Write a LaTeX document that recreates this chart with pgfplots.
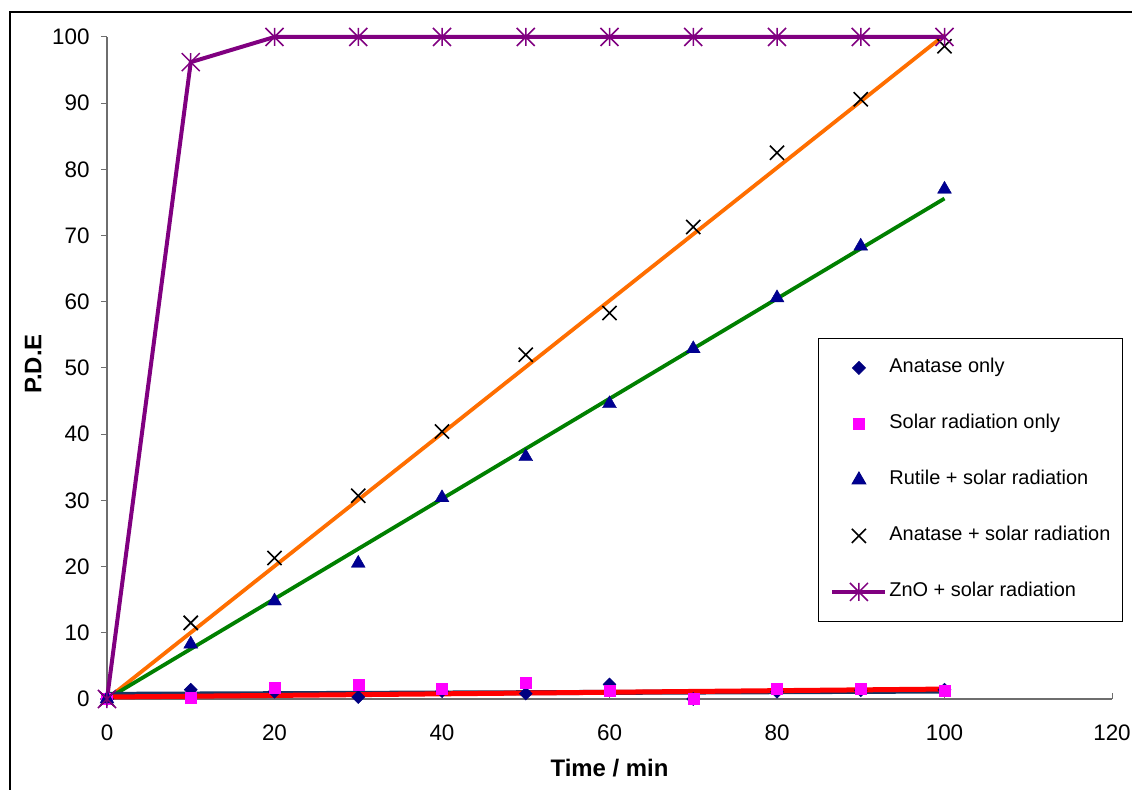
\documentclass[border=0pt]{standalone}
\usepackage{pgfplots}
\pgfplotsset{compat=1.18}
\usepackage{fontspec}
\setmainfont{Liberation Sans}
\definecolor{navym}{RGB}{0,0,128}
\definecolor{navyt}{RGB}{20,55,100}
\definecolor{mag}{RGB}{255,0,255}
\definecolor{purp}{RGB}{128,0,128}
\definecolor{orng}{RGB}{255,110,0}
\definecolor{grn}{RGB}{0,128,0}
\definecolor{axgray}{RGB}{110,110,110}
\pgfdeclareplotmark{xstar}{%
  \pgfpathmoveto{\pgfqpoint{0pt}{\pgfplotmarksize}}%
  \pgfpathlineto{\pgfqpoint{0pt}{-\pgfplotmarksize}}%
  \pgfpathmoveto{\pgfqpoint{-\pgfplotmarksize}{-\pgfplotmarksize}}%
  \pgfpathlineto{\pgfqpoint{\pgfplotmarksize}{\pgfplotmarksize}}%
  \pgfpathmoveto{\pgfqpoint{-\pgfplotmarksize}{\pgfplotmarksize}}%
  \pgfpathlineto{\pgfqpoint{\pgfplotmarksize}{-\pgfplotmarksize}}%
  \pgfusepathqstroke}
\begin{document}
\begin{tikzpicture}
\path[use as bounding box] (-107bp,-91bp) rectangle (1025bp,699bp);
\begin{axis}[
  at={(0,0)}, anchor=south west,
  scale only axis, width=1005bp, height=662bp,
  xmin=0, xmax=120, ymin=0, ymax=100,
  axis lines=left, axis line style={-, axgray, line width=1.2bp},
  xtick={0,20,...,120}, ytick={0,10,...,100},
  x tick style={axgray, line width=1bp}, y tick style={axgray, line width=1bp},
  xtick align=inside, ytick align=outside,
  major tick length=6bp,
  /pgf/number format/assume math mode=true,
  ticklabel style={font=\fontsize{22.5}{26}\selectfont},
  xticklabel style={yshift=-22bp},
  yticklabel style={xshift=-8bp},
  xlabel={\textbf{Time / min}},
  ylabel={\textbf{P.D.E}},
  xlabel style={font=\fontsize{24}{28}\selectfont, at={(axis description cs:0.5,-0.104)}, anchor=center},
  ylabel style={font=\fontsize{24}{28}\selectfont, at={(axis description cs:-0.0736,0.506)}, anchor=center},
  clip=false,
  legend style={at={(rel axis cs:0.7075,0.5453)}, anchor=north west,
    draw=black, line width=0.8bp, fill=white,
    font=\fontsize{20}{24}\selectfont,
    inner xsep=12bp, inner ysep=20bp, row sep=37bp,
    nodes={inner sep=0pt, text height=14.5bp, text depth=4.5bp},
    cells={anchor=west}},
  legend cell align=left,
  legend image code/.code={%
    \path[draw=none, fill=none] (0bp,-8bp) rectangle (57bp,8bp);
    \draw[mark repeat=2,mark phase=2] plot coordinates {(0bp,0bp) (26.5bp,0bp) (53bp,0bp)};},
]
% trendlines under markers
\addplot[orng, line width=3.8bp, forget plot] coordinates {(0,0) (100,100.3)};
\addplot[grn, line width=3.8bp, forget plot] coordinates {(0,0) (100,75.6)};

\addplot[only marks, mark=square*, mark size=4.6bp, navym, mark options={fill=navym, rotate=45}] coordinates {
(0,0) (10,1.4) (20,1.1) (30,0.3) (40,1.2) (50,0.8) (60,2.2) (70,0) (80,1.1) (90,1.3) (100,1.4)};
\addlegendentry{Anatase only}
\addplot[only marks, mark=square*, mark size=5.5bp, mag, mark options={fill=mag}] coordinates {
(0,0) (10,0.2) (20,1.7) (30,2.1) (40,1.6) (50,2.4) (60,1.2) (70,0) (80,1.5) (90,1.5) (100,1.2)};
\addlegendentry{Solar radiation only}
\addplot[only marks, mark=triangle*, mark size=8bp, navym, mark options={fill=navym!85!blue}] coordinates {
(0,0) (10,8.3) (20,14.8) (30,20.5) (40,30.4) (50,36.6) (60,44.6) (70,52.9) (80,60.6) (90,68.4) (100,77)};
\addlegendentry{Rutile + solar radiation}
\addplot[only marks, mark=x, mark size=10bp, black, mark options={line width=1.6bp}] coordinates {
(0,0) (10,11.5) (20,21.3) (30,30.7) (40,40.4) (50,52) (60,58.3) (70,71.3) (80,82.5) (90,90.6) (100,98.6)};
\addlegendentry{Anatase + solar radiation}

\addplot[navyt, line width=5bp, forget plot] coordinates {(0,0.7) (100,1.2)};
\addplot[red, line width=5bp, forget plot] coordinates {(0,0.3) (100,1.5)};

\addplot[purp, line width=4bp, mark=xstar, mark size=9bp, mark options={line width=1.5bp}] coordinates {
(0,0) (10,96.2) (20,100) (30,100) (40,100) (50,100) (60,100) (70,100) (80,100) (90,100) (100,100)};
\addlegendentry{ZnO + solar radiation}
\end{axis}
\draw[black, line width=2bp] (-97bp,-91bp) -- (-97bp,687bp) -- (1025bp,687bp);
\end{tikzpicture}
\end{document}
